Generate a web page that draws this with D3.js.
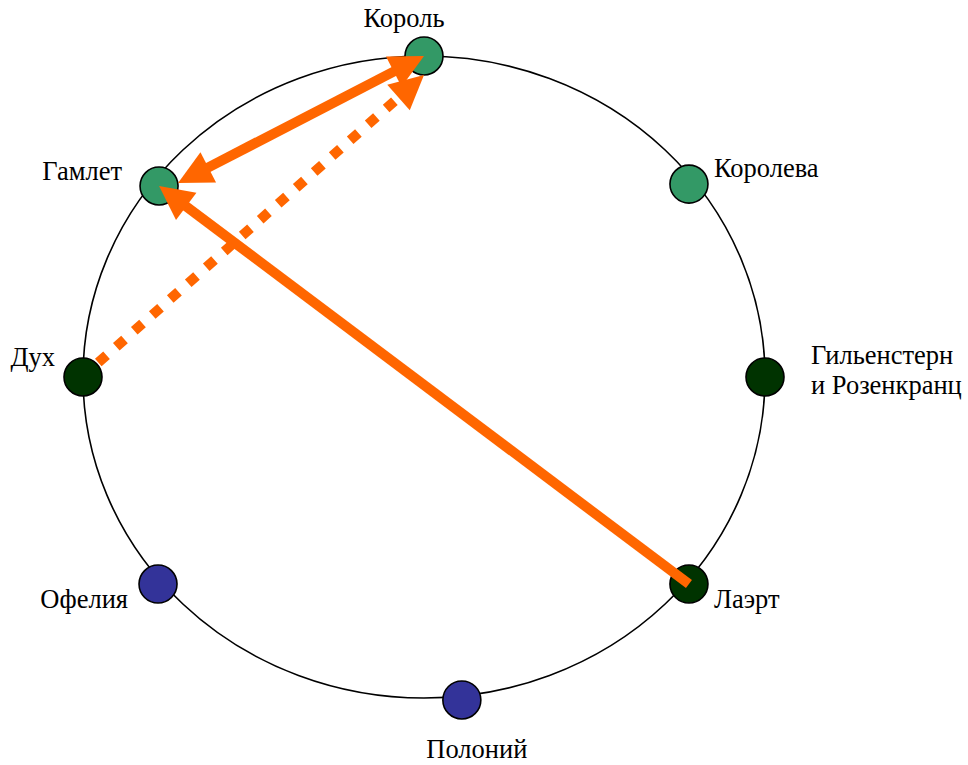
<!DOCTYPE html>
<html>
<head>
<meta charset="utf-8">
<script src="https://cdn.jsdelivr.net/npm/d3@7"></script>
<style>
  body { margin: 0; background: #fff; }
  text { font-family: "Liberation Serif", "Times New Roman", serif; font-size: 26.5px; fill: #000; }
</style>
</head>
<body>
<div id="chart"></div>
<script>
// characters, placed on the ring in normalised coordinates (-1..1)
const names  = ["Король", "Королева", "Гильенстерн\nи Розенкранц", "Лаэрт", "Полоний", "Офелия", "Дух", "Гамлет"];
const nodeX  = [0, 0.777, 1.0, 0.777, 0.111, -0.780, -1.0, -0.777];
const nodeY  = [-1.0, -0.601, 0, 0.645, 1.006, 0.645, 0, -0.595];
const groups = ["court", "court", "other", "other", "family", "family", "other", "court"];

// relations: from -> to, line kind, which ends carry an arrow
const links = [
  { from: "Гамлет", to: "Король", kind: "solid",  heads: "both" },
  { from: "Лаэрт",  to: "Гамлет", kind: "solid",  heads: "end" },
  { from: "Дух",    to: "Король", kind: "dotted", heads: "end" }
];

const width = 968, height = 765;
const cx = 424, cy = 377, rx = 341, ry = 321;
const nodeR = 19;
const orange = "#ff6600";

const color = d3.scaleOrdinal()
                .domain(["court", "other", "family"])
                .range(["#339966", "#003300", "#333399"]);

const x = d3.scaleLinear().domain([-1, 1]).range([cx - rx, cx + rx]);
const y = d3.scaleLinear().domain([-1, 1]).range([cy - ry, cy + ry]);

const svg = d3.select("#chart")
              .append("svg")
              .attr("width", width)
              .attr("height", height);

const nodes = names.map((n, i) => ({ name: n, x: x(nodeX[i]), y: y(nodeY[i]), group: groups[i] }));
const byName = {};
nodes.forEach(d => byName[d.name] = d);

// ring
svg.append("ellipse")
   .attr("cx", x(0))
   .attr("cy", y(0))
   .attr("rx", x(1) - x(0))
   .attr("ry", y(1) - y(0))
   .attr("fill", "none")
   .attr("stroke", "#000")
   .attr("stroke-width", 1.6);

// nodes
svg.selectAll("circle.node")
   .data(nodes)
   .enter()
   .append("circle")
   .attr("class", "node")
   .attr("cx", d => d.x)
   .attr("cy", d => d.y)
   .attr("r", nodeR)
   .attr("fill", d => color(d.group))
   .attr("stroke", "#000")
   .attr("stroke-width", 1.6);

// labels: offset from node centre
const labelAt = {
  "Король":   { dx: -20, dy: -29, anchor: "middle" },
  "Королева": { dx: 25,  dy: -7,  anchor: "start" },
  "Гильенстерн\nи Розенкранц": { dx: 46, dy: -13, anchor: "start" },
  "Лаэрт":    { dx: 25,  dy: 24,  anchor: "start" },
  "Полоний":  { dx: 15,  dy: 58,  anchor: "middle" },
  "Офелия":   { dx: -30, dy: 24,  anchor: "end" },
  "Дух":      { dx: -28, dy: -11, anchor: "end" },
  "Гамлет":   { dx: -37, dy: -6,  anchor: "end" }
};

nodes.forEach(d => {
  const p = labelAt[d.name];
  const t = svg.append("text")
               .attr("x", d.x + p.dx)
               .attr("y", d.y + p.dy)
               .attr("text-anchor", p.anchor);
  d.name.split("\n").forEach((line, i) => {
    t.append("tspan")
     .attr("x", d.x + p.dx)
     .attr("dy", i === 0 ? 0 : 30)
     .text(line);
  });
});

// where each line end actually attaches on the node
function endPoint(node, other, port) {
  if (port === "center") return [node.x, node.y];
  if (port === "bottom") return [node.x, node.y + nodeR];
  if (port === "right")  return [node.x + nodeR, node.y - 3];
  // edge: along the line towards the other node
  const dx = other.x - node.x, dy = other.y - node.y, len = Math.hypot(dx, dy);
  return [node.x + dx / len * (nodeR + 2), node.y + dy / len * (nodeR + 2)];
}
const ports = [["right", "center"], ["center", "center"], ["edge", "bottom"]];

const headLen = 34, headHalf = 17;

function arrowHead(tip, dir) {
  const [ux, uy] = dir;
  const bx = tip[0] - ux * headLen, by = tip[1] - uy * headLen;
  return [[tip[0], tip[1]],
          [bx - uy * headHalf, by + ux * headHalf],
          [bx + uy * headHalf, by - ux * headHalf]];
}

links.forEach((l, i) => {
  const a = byName[l.from], b = byName[l.to];
  const p0 = endPoint(a, b, ports[i][0]);
  const p1 = endPoint(b, a, ports[i][1]);
  const dx = p1[0] - p0[0], dy = p1[1] - p0[1], len = Math.hypot(dx, dy);
  const u = [dx / len, dy / len];

  const s = l.heads === "both" ? headLen - 2 : 0;
  const e = headLen - 2;
  const q0 = [p0[0] + u[0] * s, p0[1] + u[1] * s];
  const q1 = [p1[0] - u[0] * e, p1[1] - u[1] * e];

  svg.append("path")
     .attr("d", d3.line()([q0, q1]))
     .attr("stroke", orange)
     .attr("stroke-width", 10)
     .attr("fill", "none")
     .attr("stroke-dasharray", l.kind === "dotted" ? "11,13" : null);

  svg.append("path")
     .attr("d", d3.line()(arrowHead(p1, u)) + "Z")
     .attr("fill", orange);

  if (l.heads === "both") {
    svg.append("path")
       .attr("d", d3.line()(arrowHead(p0, [-u[0], -u[1]])) + "Z")
       .attr("fill", orange);
  }
});
</script>
</body>
</html>
